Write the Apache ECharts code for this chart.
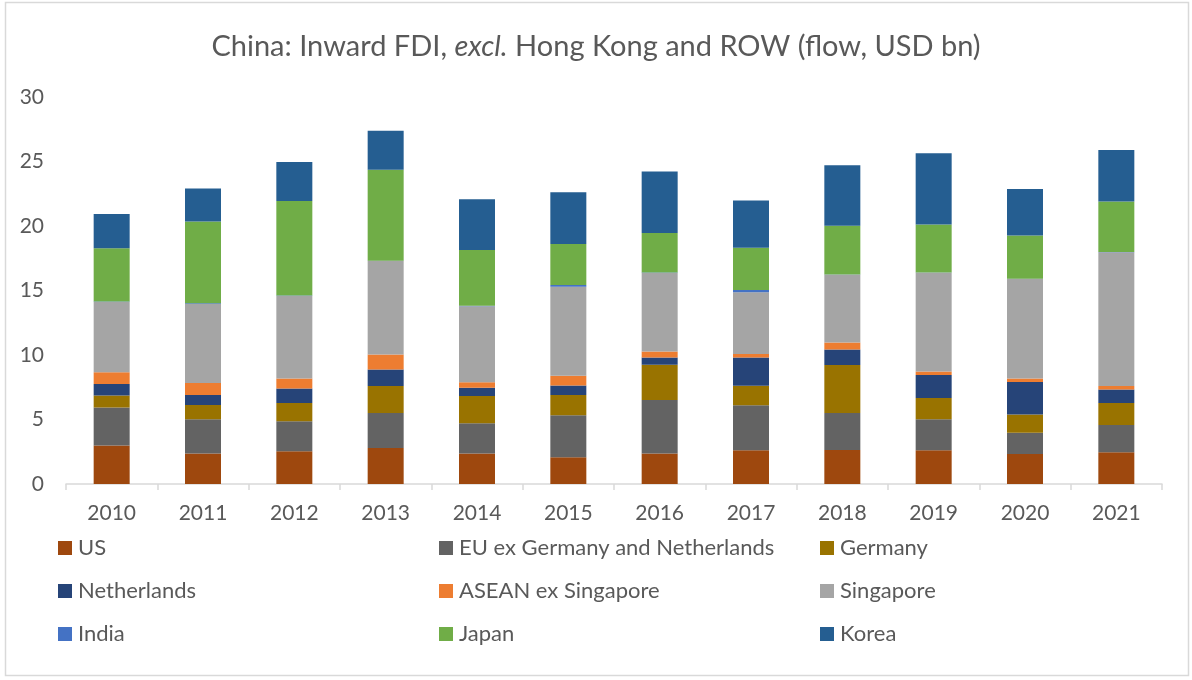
<!DOCTYPE html>
<html>
<head>
<meta charset="utf-8">
<script src="https://cdn.jsdelivr.net/npm/echarts@6/dist/echarts.min.js"></script>
<style>
html, body { margin: 0; padding: 0; background: #fff; }
#chart { width: 1192px; height: 680px; }
</style>
</head>
<body>
<div id="chart"></div>
<script>
// years on the x axis
var years = ['2010', '2011', '2012', '2013', '2014', '2015', '2016', '2017', '2018', '2019', '2020', '2021'];

// flows, USD bn
var us          = [2.99, 2.36, 2.54, 2.80, 2.36, 2.07, 2.36, 2.62, 2.64, 2.62, 2.33, 2.46];
var euExGerNl   = [2.94, 2.65, 2.32, 2.70, 2.34, 3.25, 4.15, 3.48, 2.86, 2.39, 1.65, 2.12];
var germany     = [0.93, 1.11, 1.42, 2.09, 2.12, 1.58, 2.73, 1.52, 3.72, 1.65, 1.40, 1.70];
var netherlands = [0.90, 0.78, 1.13, 1.29, 0.64, 0.74, 0.57, 2.19, 1.21, 1.78, 2.52, 1.05];
var aseanExSg   = [0.90, 0.92, 0.77, 1.16, 0.42, 0.75, 0.46, 0.26, 0.54, 0.29, 0.28, 0.26];
var singapore   = [5.44, 6.14, 6.40, 7.25, 5.90, 6.91, 6.09, 4.79, 5.26, 7.65, 7.71, 10.37];
var india       = [0.05, 0.05, 0.03, 0.02, 0.03, 0.13, 0.03, 0.18, 0.02, 0.02, 0.02, 0.02];
var japan       = [4.13, 6.34, 7.32, 7.06, 4.33, 3.17, 3.06, 3.28, 3.76, 3.72, 3.35, 3.91];
var korea       = [2.65, 2.55, 3.04, 3.02, 3.94, 4.02, 4.77, 3.66, 4.69, 5.51, 3.61, 4.00];

var yTicks = [0, 5, 10, 15, 20, 25, 30];

var txt = '#595959';
var fnt = 'Lato, "Open Sans", sans-serif';

// series in stacking order, bottom up
var seriesDefs = [
    { name: 'US', data: us, color: '#9E480E' },
    { name: 'EU ex Germany and Netherlands', data: euExGerNl, color: '#636363' },
    { name: 'Germany', data: germany, color: '#997300' },
    { name: 'Netherlands', data: netherlands, color: '#264478' },
    { name: 'ASEAN ex Singapore', data: aseanExSg, color: '#ED7D31' },
    { name: 'Singapore', data: singapore, color: '#A5A5A5' },
    { name: 'India', data: india, color: '#4472C4' },
    { name: 'Japan', data: japan, color: '#70AD47' },
    { name: 'Korea', data: korea, color: '#255E91' }
];

var series = seriesDefs.map(function (s) {
    return {
        name: s.name,
        type: 'bar',
        stack: 'fdi',
        barWidth: 36,
        data: s.data,
        itemStyle: { color: s.color },
        emphasis: { disabled: true }
    };
});

// legend laid out as three columns, like the Excel original
function legendCol(left, names) {
    return {
        orient: 'vertical',
        left: left,
        top: 537,
        padding: 0,
        itemWidth: 14,
        itemHeight: 14,
        itemGap: 21,
        icon: 'rect',
        selectedMode: false,
        textStyle: { color: txt, fontSize: 22, fontFamily: fnt, lineHeight: 22, padding: [0, 0, 0, 1] },
        data: names
    };
}

var chart = echarts.init(document.getElementById('chart'));
chart.setOption({
    backgroundColor: '#fff',
    animation: false,
    title: {
        text: 'China: Inward FDI, {i|excl.} Hong Kong and ROW (flow, USD bn)',
        left: 'center',
        top: 27,
        textStyle: {
            color: txt,
            fontSize: 29,
            fontWeight: 'normal',
            fontFamily: fnt,
            rich: {
                i: { fontStyle: 'italic', fontSize: 29, color: txt, fontFamily: fnt }
            }
        }
    },
    graphic: [{
        type: 'rect',
        shape: { x: 5.5, y: 2.5, width: 1183, height: 673 },
        style: { fill: 'none', stroke: '#D9D9D9', lineWidth: 1.5 },
        silent: true
    }],
    legend: [
        legendCol(58, ['US', 'Netherlands', 'India']),
        legendCol(439, ['EU ex Germany and Netherlands', 'ASEAN ex Singapore', 'Japan']),
        legendCol(820, ['Germany', 'Singapore', 'Korea'])
    ],
    grid: { left: 66, right: 30, top: 97, bottom: 196, containLabel: false },
    xAxis: {
        type: 'category',
        data: years,
        axisLine: { lineStyle: { color: '#D9D9D9', width: 1.5 } },
        axisTick: { show: true, length: 6, lineStyle: { color: '#D9D9D9', width: 1.5 } },
        axisLabel: { color: txt, fontSize: 21, fontFamily: fnt, margin: 19 }
    },
    yAxis: {
        type: 'value',
        min: yTicks[0],
        max: yTicks[yTicks.length - 1],
        interval: 5,
        splitLine: { show: false },
        axisLine: { show: false },
        axisTick: { show: false },
        axisLabel: { color: txt, fontSize: 21, fontFamily: fnt, margin: 22 }
    },
    series: series
});
</script>
</body>
</html>
